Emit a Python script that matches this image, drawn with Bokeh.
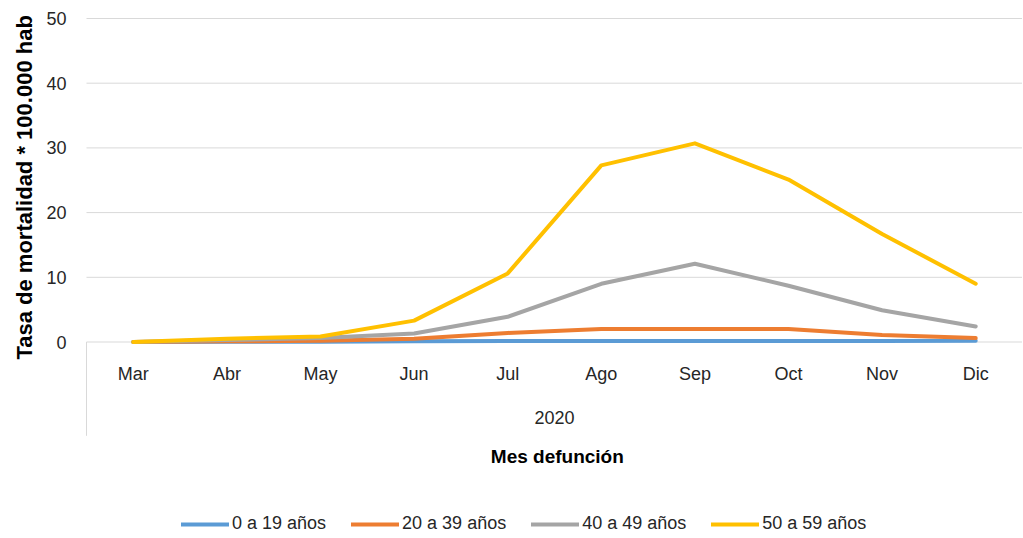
import math
from bokeh.plotting import figure
from bokeh.models import ColumnDataSource, Range1d, Legend, LegendItem
from bokeh.core.properties import value
from bokeh.embed import file_html
from bokeh.resources import INLINE

# ---- data ----
months = ["Mar", "Abr", "May", "Jun", "Jul", "Ago", "Sep", "Oct", "Nov", "Dic"]
year_label = "2020"
x_title = "Mes defunción"
y_title = "Tasa de mortalidad * 100.000 hab"
series_names = ["0 a 19 años", "20 a 39 años", "40 a 49 años", "50 a 59 años"]
s_0_19 = [0, 0.05, 0.05, 0.1, 0.15, 0.15, 0.15, 0.15, 0.15, 0.2]
s_20_39 = [0, 0.1, 0.2, 0.5, 1.4, 2.0, 2.0, 2.0, 1.1, 0.6]
s_40_49 = [0, 0.3, 0.6, 1.3, 3.9, 9.0, 12.1, 8.7, 4.9, 2.4]
s_50_59 = [0, 0.5, 0.85, 3.3, 10.6, 27.3, 30.7, 25.1, 16.7, 9.0]
y_ticks = [0, 10, 20, 30, 40, 50]

colors = ["#5B9BD5", "#ED7D31", "#A5A5A5", "#FFC000"]
FONT = "Liberation Sans"
TXT = "#262626"
GRID = "#D9D9D9"

n = len(months)
x_idx = list(range(n))
x_lo, x_hi = -0.5, n - 0.5

# the frame covers the whole canvas; axes are drawn through the data scales
p = figure(width=1022, height=536, output_backend="svg", toolbar_location=None,
           x_range=Range1d(-1.4188, x_hi), y_range=Range1d(-30.06, 52.78),
           min_border_left=0, min_border_right=0, min_border_top=0, min_border_bottom=0)
p.outline_line_color = None
p.background_fill_color = "white"
p.border_fill_color = "white"
p.xaxis.visible = False
p.yaxis.visible = False
p.xgrid.visible = False
p.ygrid.visible = False

# horizontal gridlines (value axis)
p.segment(x0=[x_lo] * len(y_ticks), x1=[x_hi] * len(y_ticks), y0=y_ticks, y1=y_ticks,
          line_color=GRID, line_width=1)
# value-axis tick labels
ysrc = ColumnDataSource(dict(x=[-0.7137] * len(y_ticks), y=y_ticks, t=[str(t) for t in y_ticks]))
p.text("x", "y", text="t", source=ysrc, text_font=value(FONT), text_font_size="18px",
       text_color=TXT, text_align="right", text_baseline="middle")

# separator line of the category axis
p.segment(x0=[x_lo], y0=[0], x1=[x_lo], y1=[-14.5], line_color=GRID, line_width=1)

renderers = []
for name, ys, c in zip(series_names, [s_0_19, s_20_39, s_40_49, s_50_59], colors):
    src = ColumnDataSource(dict(x=x_idx, y=ys))
    r = p.line("x", "y", source=src, line_color=c, line_width=4,
               line_join="round", line_cap="round")
    renderers.append((name, r))

# category labels
msrc = ColumnDataSource(dict(x=x_idx, y=[-4.87] * n, t=months))
p.text("x", "y", text="t", source=msrc, text_font=value(FONT), text_font_size="18px",
       text_color=TXT, text_align="center", text_baseline="middle")
p.text(x=[(n - 1) / 2], y=[-11.67], text=[year_label], text_font=value(FONT),
       text_font_size="18px", text_color=TXT, text_align="center", text_baseline="middle")
p.text(x=[4.53], y=[-17.7], text=[x_title], text_font=value(FONT), text_font_size="19px",
       text_font_style="bold", text_color="#000000", text_align="center", text_baseline="middle")

# value-axis title
p.text(x=[-1.1624], y=[23.9], text=[y_title], angle=math.pi / 2, text_font=value(FONT),
       text_font_size="22px", text_font_style="bold", text_color="#000000",
       text_align="center", text_baseline="middle")

legend = Legend(items=[LegendItem(label=nm, renderers=[r]) for nm, r in renderers],
                orientation="horizontal", location=(181, 2), glyph_width=48, glyph_height=18,
                label_standoff=3, spacing=25, padding=0, margin=0, border_line_color=None,
                background_fill_alpha=0, label_text_font=FONT, label_text_font_size="18px",
                label_text_color=TXT, label_height=18)
p.add_layout(legend)

open("out.html", "w").write(file_html(p, INLINE))
